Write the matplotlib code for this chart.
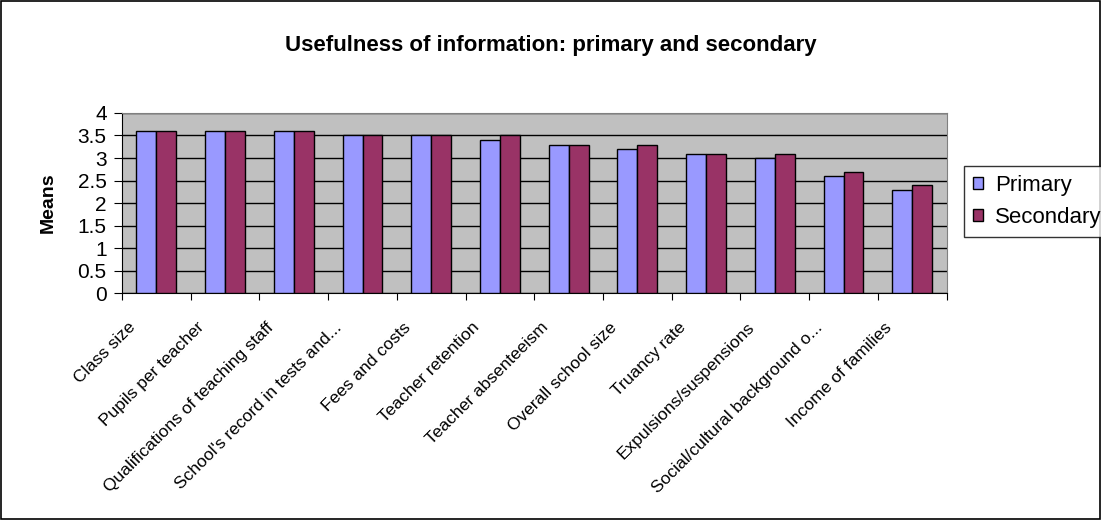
import numpy as np
import matplotlib.pyplot as plt
from matplotlib.patches import Rectangle
from matplotlib.transforms import ScaledTranslation

plt.rcParams['font.family'] = ['Liberation Sans', 'DejaVu Sans']

categories = ["Class size", "Pupils per teacher", "Qualifications of teaching staff",
              "School's record in tests and...", "Fees and costs", "Teacher retention",
              "Teacher absenteeism", "Overall school size", "Truancy rate",
              "Expulsions/suspensions", "Social/cultural background o...", "Income of families"]
primary = [3.6, 3.6, 3.6, 3.5, 3.5, 3.4, 3.3, 3.2, 3.1, 3.0, 2.6, 2.3]
secondary = [3.6, 3.6, 3.6, 3.5, 3.5, 3.5, 3.3, 3.3, 3.1, 3.1, 2.7, 2.4]

fig = plt.figure(figsize=(11.01, 5.2), dpi=100)
ax = fig.add_axes([0.1108, 0.4365, 0.749, 0.3462])

x = np.arange(len(categories))
w = 0.29
ax.bar(x - w / 2, primary, w, color="#9999FF", edgecolor="black", linewidth=1, label="Primary", zorder=3)
ax.bar(x + w / 2, secondary, w, color="#993366", edgecolor="black", linewidth=1, label="Secondary", zorder=3)

ax.set_facecolor("#C0C0C0")
ax.set_xlim(-0.5, len(categories) - 0.5)
ax.set_ylim(0, 4)
ax.set_yticks(np.arange(0, 4.01, 0.5))
ax.set_yticklabels(["0", "0.5", "1", "1.5", "2", "2.5", "3", "3.5", "4"], fontsize=15)
ax.yaxis.grid(True, color="black", linewidth=1, zorder=1)
ax.set_axisbelow(True)

# ticks at category boundaries, labels at centres
ax.set_xticks(np.arange(-0.5, len(categories)), minor=False)
ax.set_xticklabels([])
ax.set_xticks(x, minor=True)
ax.set_xticklabels(categories, minor=True, rotation=45, ha="right", va="center",
                   rotation_mode="anchor", fontsize=12.5)
ax.tick_params(axis="x", which="minor", length=0, pad=0)
ax.tick_params(axis="x", which="major", length=5, direction="out")
ax.tick_params(axis="y", length=6, direction="out", pad=5)
shift = ScaledTranslation(-0.23, -0.32, fig.dpi_scale_trans)
for lbl in ax.get_xticklabels(minor=True):
    lbl.set_transform(lbl.get_transform() + shift)

for s in ["top", "right"]:
    ax.spines[s].set_color("#808080")
for s in ["left", "bottom"]:
    ax.spines[s].set_color("black")

ax.set_ylabel("Means", fontsize=14, fontweight="bold", labelpad=15)
fig.text(0.5, 0.913, "Usefulness of information: primary and secondary",
         ha="center", va="center", fontsize=16, fontweight="bold")

leg = fig.legend(loc="upper left", bbox_to_anchor=(964 / 1101, 1 - 166 / 520), fontsize=16,
                 frameon=True, fancybox=False, edgecolor="black", handlelength=0.45,
                 handleheight=0.45, handletextpad=0.55, borderpad=0.4, labelspacing=0.5,
                 borderaxespad=0)
leg.get_frame().set_linewidth(1)

fig.patches.append(Rectangle((0.001, 0.002), 0.998, 0.996, transform=fig.transFigure,
                             fill=False, edgecolor="black", linewidth=1.2))

fig.savefig("out.png", dpi=100)
